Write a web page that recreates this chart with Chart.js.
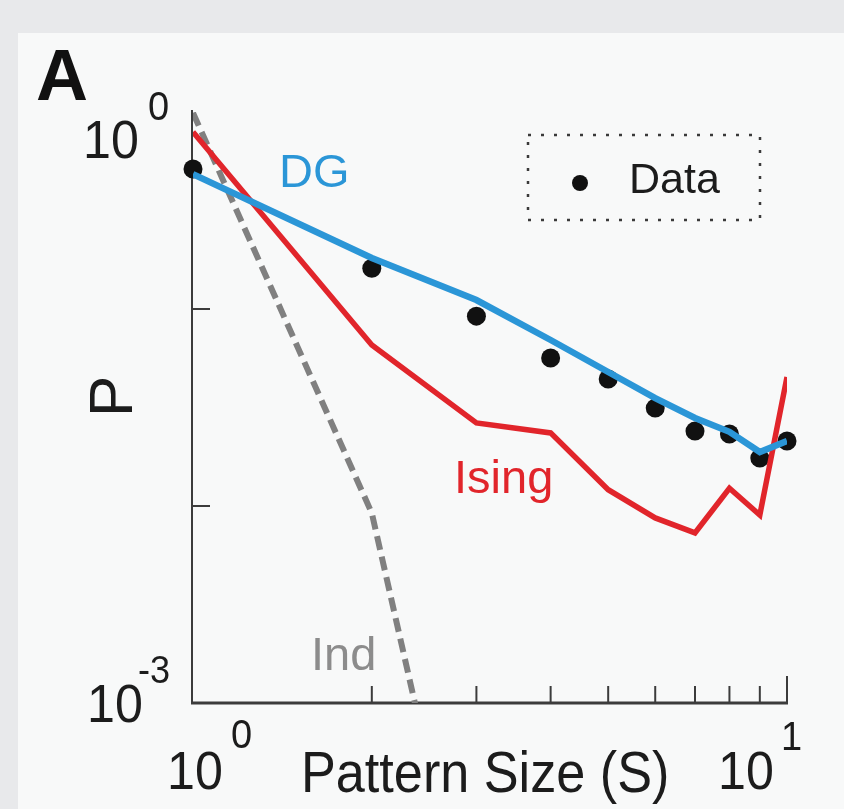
<!DOCTYPE html>
<html>
<head>
<meta charset="utf-8">
<title>Pattern size distribution</title>
<script src="https://cdn.jsdelivr.net/npm/chart.js@4.4.1/dist/chart.umd.min.js"></script>
<style>
html, body { margin: 0; padding: 0; background: #e8e9eb; overflow: hidden; }
#wrap { position: absolute; left: 0; top: 0; width: 844px; height: 809px; }
</style>
</head>
<body>
<div id="wrap"><canvas id="patternChart"></canvas></div>
<script>
// pattern sizes S (x axis, log)
var sizes = [1, 2, 3, 4, 5, 6, 7, 8, 9, 10];
// measured probability of each pattern size
var dataP = [0.514, 0.161, 0.092, 0.0564, 0.0441, 0.0314, 0.0240, 0.0232, 0.0175, 0.0214];
// DG model
var dgP = [0.484, 0.1815, 0.111, 0.0696, 0.0479, 0.0353, 0.0280, 0.0238, 0.0188, 0.0214];
// Ising model
var isingP = [0.792, 0.0656, 0.0264, 0.0235, 0.0121, 0.0087, 0.0073, 0.0123, 0.0090, 0.0452];
// independent model, drops off the bottom of the plot fast
var indSizes = [1, 2, 3];
var indP = [0.99, 0.0092, 0.000042];

var xTickVals = [2, 3, 4, 5, 6, 7, 8, 9, 10];
var yTickVals = [0.1, 0.01];

var FONT = '"Liberation Sans", Arial, Helvetica, sans-serif';
var BLUE = '#2b96d7';
var RED = '#e1252b';
var GREY = '#808080';

function pts(xs, ys) {
    var out = [];
    for (var i = 0; i < xs.length; i++) {
        out.push({x: xs[i], y: ys[i]});
    }
    return out;
}

// draw text, optionally squeezed horizontally
function txt(ctx, s, x, y, size, color, sx, bold) {
    ctx.save();
    ctx.font = (bold ? 'bold ' : '') + size + 'px ' + FONT;
    ctx.fillStyle = color;
    ctx.textAlign = 'left';
    ctx.textBaseline = 'alphabetic';
    ctx.translate(x, y);
    ctx.scale(sx || 1, 1);
    ctx.fillText(s, 0, 0);
    ctx.restore();
}

var decor = {
    id: 'decor',
    beforeDraw: function(chart) {
        var ctx = chart.ctx;
        ctx.save();
        ctx.fillStyle = '#e8e9eb';
        ctx.fillRect(0, 0, chart.width, chart.height);
        ctx.fillStyle = '#f8f9f9';
        ctx.fillRect(18, 33, chart.width - 18, chart.height - 33);
        ctx.restore();
    },
    beforeDatasetsDraw: function(chart) {
        var ctx = chart.ctx;
        var xs = chart.scales.x, ys = chart.scales.y;
        var x0 = xs.getPixelForValue(1), x1 = xs.getPixelForValue(10);
        var yTop = ys.getPixelForValue(1), yBot = ys.getPixelForValue(0.001);
        ctx.save();
        ctx.strokeStyle = '#3c3c3c';
        // y axis
        ctx.lineWidth = 2;
        ctx.beginPath();
        ctx.moveTo(x0 - 1, yTop - 2);
        ctx.lineTo(x0 - 1, yBot);
        ctx.stroke();
        yTickVals.forEach(function(v) {
            var py = ys.getPixelForValue(v);
            ctx.beginPath();
            ctx.moveTo(x0 - 1, py);
            ctx.lineTo(x0 + 17, py);
            ctx.stroke();
        });
        // x axis
        ctx.lineWidth = 3;
        ctx.beginPath();
        ctx.moveTo(x0 - 2, yBot);
        ctx.lineTo(x1 + 1, yBot);
        ctx.stroke();
        ctx.lineWidth = 2;
        xTickVals.forEach(function(v) {
            var px = xs.getPixelForValue(v);
            ctx.beginPath();
            ctx.moveTo(px, yBot);
            ctx.lineTo(px, yBot - (v === 10 ? 27 : 17));
            ctx.stroke();
        });
        ctx.restore();
    },
    afterDraw: function(chart) {
        var ctx = chart.ctx;
        var xs = chart.scales.x, ys = chart.scales.y;
        var x0 = xs.getPixelForValue(1), x1 = xs.getPixelForValue(10);
        var yTop = ys.getPixelForValue(1), yBot = ys.getPixelForValue(0.001);
        var ink = '#1c1c1c';

        txt(ctx, 'A', 36, 100, 72, '#111', 1, true);

        // y tick labels
        txt(ctx, '10', x0 - 110, yTop + 46, 54, ink, 0.93);
        txt(ctx, '0', x0 - 45, yTop + 8, 40, ink, 0.95);
        txt(ctx, '10', x0 - 106, yBot + 19, 54, ink, 0.93);
        txt(ctx, '-3', x0 - 55, yBot - 20, 38, ink, 0.95);

        // x tick labels
        txt(ctx, '10', x0 - 26, yBot + 86, 54, ink, 0.93);
        txt(ctx, '0', x0 + 38, yBot + 45, 40, ink, 0.95);
        txt(ctx, '10', x1 - 69, yBot + 86, 54, ink, 0.93);
        txt(ctx, '1', x1 - 6, yBot + 47, 40, ink, 0.95);

        // axis titles
        txt(ctx, 'Pattern Size (S)', 301, 792, 58, ink, 0.9);
        ctx.save();
        ctx.font = '62px ' + FONT;
        ctx.fillStyle = ink;
        ctx.translate(132, 417);
        ctx.rotate(-Math.PI / 2);
        ctx.fillText('P', 0, 0);
        ctx.restore();

        // curve labels
        txt(ctx, 'DG', 279, 187, 47, BLUE);
        txt(ctx, 'Ising', 454, 493, 47, RED);
        txt(ctx, 'Ind', 311, 670, 47, '#8c8c8c');

        // legend box
        ctx.save();
        ctx.strokeStyle = '#3a3a3a';
        ctx.lineWidth = 2.5;
        ctx.setLineDash([3, 10]);
        ctx.strokeRect(528, 135, 232, 85);
        ctx.setLineDash([]);
        ctx.fillStyle = '#111';
        ctx.beginPath();
        ctx.arc(580, 183, 8, 0, Math.PI * 2);
        ctx.fill();
        ctx.restore();
        txt(ctx, 'Data', 629, 193, 43, ink);
    }
};

var ctx = document.getElementById('patternChart');
var patternChart = new Chart(ctx, {
    type: 'line',
    data: {
        datasets: [
            {
                label: 'Data',
                data: pts(sizes, dataP),
                showLine: false,
                pointRadius: 9.5,
                pointBackgroundColor: '#111',
                pointBorderWidth: 0,
                clip: false,
                order: 3
            },
            {
                label: 'Ind',
                data: pts(indSizes, indP),
                borderColor: GREY,
                borderWidth: 6,
                borderDash: [14, 7],
                pointRadius: 0,
                order: 4
            },
            {
                label: 'Ising',
                data: pts(sizes, isingP),
                borderColor: RED,
                borderWidth: 5.5,
                pointRadius: 0,
                order: 2
            },
            {
                label: 'DG',
                data: pts(sizes, dgP),
                borderColor: BLUE,
                borderWidth: 6.5,
                pointRadius: 0,
                order: 1
            }
        ]
    },
    options: {
        responsive: true,
        maintainAspectRatio: false,
        animation: false,
        devicePixelRatio: 1,
        layout: { padding: { left: 193, right: 57, top: 112, bottom: 106 } },
        scales: {
            x: { type: 'logarithmic', min: 1, max: 10, display: false },
            y: { type: 'logarithmic', min: 0.001, max: 1, display: false }
        },
        plugins: {
            legend: { display: false },
            tooltip: { enabled: false }
        }
    },
    plugins: [decor]
});
</script>
</body>
</html>
